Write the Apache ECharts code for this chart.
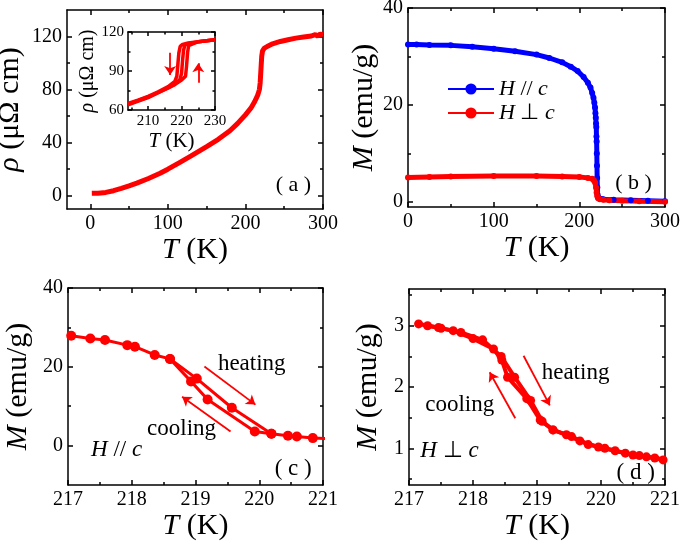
<!DOCTYPE html>
<html><head><meta charset="utf-8">
<script src="https://cdn.jsdelivr.net/npm/echarts@6/dist/echarts.min.js"></script>
<style>html,body{margin:0;padding:0;background:#fff}#c{width:685px;height:548px}</style>
</head><body><div id="c"></div>
<script>
// ---------- Panel (a): resistivity ----------
const aT   = [2, 10, 20, 30, 40, 50, 60, 75, 90, 100, 115, 130, 150, 165, 180, 190, 200, 207, 212, 216, 218, 219, 220, 221, 222, 224, 228, 235, 245, 255, 265, 275, 285, 290, 293, 296, 300];
const aRho = [1.8, 1.9, 2.5, 3.8, 5.5, 7.4, 9.5, 13, 17, 20, 25, 30, 37, 42.5, 49, 54.5, 61, 66, 71, 76, 80, 85, 95, 105, 109, 111, 112.5, 114.5, 116.3, 117.6, 118.8, 119.7, 120.4, 121.5, 120.3, 121.8, 121.5];
// inset branches
const i1T = [204, 207, 210, 213, 216, 218, 218.6, 218.9, 219.2, 219.6, 220.3, 222, 225, 230];
const i1R = [65, 67.5, 70.5, 74, 78, 82, 86, 95, 104, 109, 110.5, 111.5, 112.5, 114];
const i2T = [204, 210, 216, 218, 219.5, 220, 220.3, 220.6, 221, 222, 225, 230];
const i2R = [64, 69.5, 77, 80, 83.5, 88, 98, 106, 110, 111, 112.5, 114];
const i3T = [204, 210, 216, 218, 220, 221.2, 221.5, 221.8, 222.1, 222.6, 225, 230];
const i3R = [64.5, 70, 77, 79.5, 83, 86, 94, 104, 109.5, 111, 112.5, 114];
// ---------- Panel (b): magnetization ----------
const bParT = [0, 10, 25, 50, 75, 100, 125, 150, 165, 180, 190, 198, 205, 210, 213, 215, 216.5, 217.5, 218.3, 218.8, 219.2, 219.5, 219.8, 220, 220.2, 220.4, 220.6, 220.8, 221, 221.3, 222, 224, 228, 240, 260, 280, 300];
const bParM = [32.5, 32.5, 32.4, 32.3, 32.0, 31.6, 31.1, 30.4, 29.7, 28.8, 27.9, 27.0, 25.8, 24.6, 23.6, 22.5, 21.5, 20.5, 19.5, 18.3, 17.4, 16.2, 15.5, 13.5, 12.5, 10, 7.5, 5, 3, 1.5, 0.9, 0.7, 0.6, 0.5, 0.4, 0.3, 0.2];
const bPerT = [0, 25, 50, 100, 150, 180, 200, 210, 215, 217, 218.5, 219.5, 220.2, 221, 222, 224, 228, 235, 250, 270, 300];
const bPerM = [5.1, 5.2, 5.3, 5.4, 5.4, 5.3, 5.2, 5.0, 4.8, 4.5, 4.0, 3.0, 2.0, 1.2, 0.8, 0.6, 0.5, 0.4, 0.3, 0.2, 0.1];
// ---------- Panel (c): H // c loop ----------
const cHeatT = [217.05, 217.35, 217.58, 217.93, 218.05, 218.36, 218.6, 219.02, 219.57, 220.19, 220.45, 220.59, 220.84, 221.1];
const cHeatM = [27.9, 27.2, 26.8, 25.5, 25.1, 23.0, 22.0, 17.0, 9.6, 3.0, 2.5, 2.3, 1.9, 1.75];
const cCoolT = [218.6, 218.93, 219.19, 219.93, 220.19];
const cCoolM = [22.0, 16.3, 11.7, 3.6, 3.0];
// ---------- Panel (d): H ⊥ c loop ----------
const dHeatT = [217.15, 217.46, 217.81, 218.15, 218.44, 218.65, 218.9, 219.08, 219.25, 219.54, 219.8, 220.06, 220.38, 220.6, 220.84, 221.1];
const dHeatM = [3.03, 2.97, 2.89, 2.77, 2.50, 2.16, 1.78, 1.44, 1.30, 1.19, 1.06, 1.00, 0.92, 0.88, 0.84, 0.80];
const dCoolT = [217.29, 217.5, 217.69, 218.0, 218.32, 218.45, 218.54, 218.84, 219.05, 219.25, 219.46, 219.67, 219.96, 220.22, 220.5, 220.71, 220.97];
const dCoolM = [3.0, 2.96, 2.92, 2.79, 2.62, 2.44, 2.16, 1.81, 1.46, 1.30, 1.22, 1.12, 1.02, 0.96, 0.89, 0.86, 0.81];
// ---------- tick values ----------
const aXMajor = [0, 100, 200, 300], aXMinor = [50, 150, 250];
const aYMajor = [0, 40, 80, 120], aYMinor = [20, 60, 100];
const iXMajor = [210, 220, 230], iXMinor = [205, 215, 225];
const iYMajor = [60, 90, 120], iYMinor = [75, 105];
const bXMajor = [0, 100, 200, 300], bXMinor = [50, 150, 250];
const bYMajor = [0, 20, 40], bYMinor = [10, 30];
const cdXMajor = [217, 218, 219, 220, 221], cdXMinor = [217.5, 218.5, 219.5, 220.5];
const cYMajor = [0, 20, 40], cYMinor = [10, 30];
const dYMajor = [1, 2, 3], dYMinor = [0.5, 1.5, 2.5, 3.5];

const FONT = 'Liberation Serif';
const RED = '#ff0000', BLUE = '#0000ff';
const xAxes = [], yAxes = [];
function addAxes(list, dim, gi, c) {
  const pos = dim === 'x' ? ['bottom', 'top'] : ['left', 'right'];
  const ls = {color: '#000', width: 1.5};
  const base = {gridIndex: gi, type: 'value', min: c.min, max: c.max, splitLine: {show: false}, minorTick: {show: false}};
  const idx = list.length;
  const tl = c.tl || 5, ml = c.ml || 3;
  list.push(Object.assign({}, base, {
    position: pos[0], name: c.name, nameLocation: 'middle', nameGap: c.nameGap,
    nameTextStyle: {fontFamily: FONT, fontSize: c.ns, color: '#000',
      rich: {i: {fontFamily: FONT, fontSize: c.ns, fontStyle: 'italic', color: '#000'}}},
    axisLine: {show: true, onZero: false, lineStyle: ls},
    axisTick: {show: true, inside: true, length: tl, customValues: c.majors, lineStyle: ls},
    axisLabel: {show: true, customValues: c.majors, fontFamily: FONT, fontSize: c.fs, color: '#000', margin: c.margin || 5}
  }));
  list.push(Object.assign({}, base, {position: pos[0], axisLine: {show: false, onZero: false},
    axisTick: {show: true, inside: true, length: ml, customValues: c.minors, lineStyle: ls}, axisLabel: {show: false}}));
  list.push(Object.assign({}, base, {position: pos[1], axisLine: {show: true, onZero: false, lineStyle: ls},
    axisTick: {show: true, inside: true, length: tl, customValues: c.majors, lineStyle: ls}, axisLabel: {show: false}}));
  list.push(Object.assign({}, base, {position: pos[1], axisLine: {show: false, onZero: false},
    axisTick: {show: true, inside: true, length: ml, customValues: c.minors, lineStyle: ls}, axisLabel: {show: false}}));
  return idx;
}
const zip = (xs, ys) => xs.map((x, i) => [x, ys[i]]);
function lineS(name, xi, yi, xs, ys, color, lw, sym) {
  return {type: 'line', name, xAxisIndex: xi, yAxisIndex: yi, data: zip(xs, ys),
    showSymbol: !!sym, symbol: 'circle', symbolSize: sym || 0, clip: true,
    lineStyle: {color, width: lw}, itemStyle: {color}, z: 3};
}
function textS(xi, yi, items, fs) {
  return {type: 'scatter', xAxisIndex: xi, yAxisIndex: yi, symbolSize: 1, silent: true, clip: false,
    itemStyle: {color: 'rgba(0,0,0,0)'},
    data: items.map(t => ({value: [t[0], t[1]], t: t[2]})),
    label: {show: true, position: [0, 0], align: 'center', verticalAlign: 'middle',
      formatter: p => p.data.t, fontFamily: FONT, fontSize: fs, color: '#000', textBorderWidth: 0, opacity: 1,
      rich: {i: {fontFamily: FONT, fontSize: fs, fontStyle: 'italic', color: '#000'}}}, z: 5};
}
function arrowS(xi, yi, segs) {
  return {type: 'lines', coordinateSystem: 'cartesian2d', xAxisIndex: xi, yAxisIndex: yi, silent: true,
    symbol: ['none', 'arrow'], symbolSize: 9,
    lineStyle: {color: RED, width: 1.8, opacity: 1},
    data: segs.map(s => ({coords: [[s[0], s[1]], [s[2], s[3]]]})), z: 4};
}

const grids = [
  {left: 67, top: 10, width: 256, height: 199},
  {left: 128, top: 32, width: 87, height: 78},
  {left: 408, top: 8, width: 257, height: 199},
  {left: 68, top: 288, width: 255, height: 197},
  {left: 409, top: 289, width: 256, height: 196}
].map(g => Object.assign({show: false, containLabel: false, outerBoundsMode: 'none'}, g));

const TK = '{i|T} (K)', MY = '{i|M} (emu/g)';
const NS = 30;
const axA = addAxes(xAxes, 'x', 0, {min: -30, max: 300, majors: aXMajor, minors: aXMinor, name: TK, nameGap: 22, ns: NS, fs: 20});
const ayA = addAxes(yAxes, 'y', 0, {min: -10, max: 140, majors: aYMajor, minors: aYMinor, name: '{i|ρ} (μΩ cm)', nameGap: 42, ns: NS, fs: 20});
const axI = addAxes(xAxes, 'x', 1, {min: 204, max: 230, majors: iXMajor, minors: iXMinor, name: TK, nameGap: 21, ns: 21, fs: 15, tl: 4, ml: 2.5, margin: 4});
const ayI = addAxes(yAxes, 'y', 1, {min: 60, max: 120, majors: iYMajor, minors: iYMinor, name: '{i|ρ} (μΩ cm)', nameGap: 30, ns: 20, fs: 15, tl: 4, ml: 2.5, margin: 4});
const axB = addAxes(xAxes, 'x', 2, {min: 0, max: 300, majors: bXMajor, minors: bXMinor, name: TK, nameGap: 24, ns: NS, fs: 20});
const ayB = addAxes(yAxes, 'y', 2, {min: -1, max: 40, majors: bYMajor, minors: bYMinor, name: MY, nameGap: 25, ns: NS, fs: 20});
const axC = addAxes(xAxes, 'x', 3, {min: 217, max: 221, majors: cdXMajor, minors: cdXMinor, name: TK, nameGap: 23, ns: NS, fs: 20});
const ayC = addAxes(yAxes, 'y', 3, {min: -10, max: 40, majors: cYMajor, minors: cYMinor, name: MY, nameGap: 35, ns: NS, fs: 20});
const axD = addAxes(xAxes, 'x', 4, {min: 217, max: 221, majors: cdXMajor, minors: cdXMinor, name: TK, nameGap: 23, ns: NS, fs: 20});
const ayD = addAxes(yAxes, 'y', 4, {min: 0.4, max: 3.6, majors: dYMajor, minors: dYMinor, name: MY, nameGap: 26, ns: NS, fs: 20});

const series = [
  lineS('a', axA, ayA, aT, aRho, RED, 5, 0),
  textS(axA, ayA, [[262.5, 7.6, '( a )']], 22),
  lineS('i1', axI, ayI, i1T, i1R, RED, 3.5, 0),
  lineS('i2', axI, ayI, i2T, i2R, RED, 3.5, 0),
  lineS('i3', axI, ayI, i3T, i3R, RED, 3.5, 0),
  arrowS(axI, ayI, [[216.6, 104, 216.6, 87], [225, 81, 225, 96]]),
  lineS('H // c', axB, ayB, bParT, bParM, BLUE, 5, 6),
  lineS('H ⊥ c', axB, ayB, bPerT, bPerM, RED, 5, 6),
  textS(axB, ayB, [[263.8, 3.7, '( b )']], 22),
  lineS('c heating', axC, ayC, cHeatT, cHeatM, RED, 3, 10),
  lineS('c cooling', axC, ayC, cCoolT, cCoolM, RED, 3, 10),
  arrowS(axC, ayC, [[219.14, 20.1, 219.94, 10.4], [219.55, 3.6, 218.79, 12.4]]),
  textS(axC, ayC, [[219.89, 20.5, 'heating'], [218.79, 4.0, 'cooling'], [217.77, -1.3, '{i|H} // {i|c}'], [220.54, -6.0, '( c )']], 23),
  lineS('d heating', axD, ayD, dHeatT, dHeatM, RED, 4, 9),
  lineS('d cooling', axD, ayD, dCoolT, dCoolM, RED, 4, 9),
  arrowS(axD, ayD, [[218.79, 2.51, 219.2, 1.70], [218.66, 1.49, 218.26, 2.24]]),
  textS(axD, ayD, [[219.61, 2.22, 'heating'], [217.8, 1.70, 'cooling'], [217.64, 0.95, '{i|H} ⊥ {i|c}'], [220.55, 0.59, '( d )']], 23)
];

const chart = echarts.init(document.getElementById('c'), null, {renderer: 'canvas'});
chart.setOption({
  animation: false,
  backgroundColor: '#fff',
  textStyle: {fontFamily: FONT, color: '#000'},
  grid: grids,
  xAxis: xAxes,
  yAxis: yAxes,
  legend: {
    show: true, data: ['H // c', 'H ⊥ c'], left: 442, top: 73, orient: 'vertical',
    itemWidth: 46, itemHeight: 14, itemGap: 2, selectedMode: false,
    textStyle: {fontFamily: FONT, fontSize: 22, color: '#000',
      rich: {i: {fontFamily: FONT, fontSize: 22, fontStyle: 'italic', color: '#000'}}},
    formatter: n => n === 'H // c' ? '{i|H} // {i|c}' : '{i|H} ⊥ {i|c}'
  },
  series
});
</script></body></html>
